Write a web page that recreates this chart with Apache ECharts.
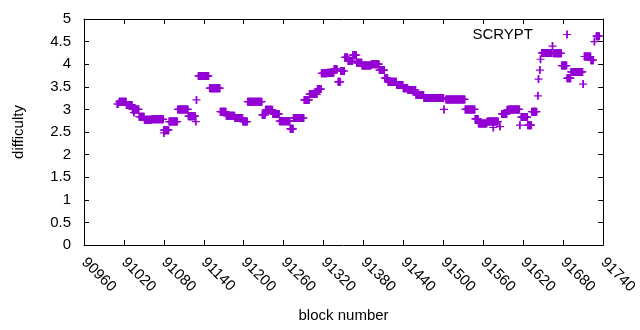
<!DOCTYPE html>
<html>
<head>
<meta charset="utf-8">
<script src="https://cdn.jsdelivr.net/npm/echarts@6/dist/echarts.min.js"></script>
<style>
  html, body { margin: 0; padding: 0; background: #fff; }
  #chart { width: 640px; height: 330px; }
</style>
</head>
<body>
<div id="chart"></div>
<script>
const xTickLabels = [90960, 91020, 91080, 91140, 91200, 91260, 91320, 91380, 91440, 91500, 91560, 91620, 91680, 91740];
const yTickLabels = [0, 0.5, 1, 1.5, 2, 2.5, 3, 3.5, 4, 4.5, 5];

// runs of blocks that sit at the same difficulty (first block, last block, value)
const runStart = [91013, 91024, 91033, 91043, 91051, 91062, 91080, 91088, 91101, 91117, 91132, 91149, 91165, 91174, 91187, 91199, 91206, 91228, 91233, 91244, 91254, 91270, 91275, 91291, 91299, 91311, 91317, 91326, 91336, 91342, 91346, 91352, 91357, 91364, 91370, 91378, 91392, 91404, 91412, 91417, 91430, 91440, 91447, 91459, 91471, 91504, 91533, 91548, 91553, 91566, 91588, 91596, 91600, 91617, 91627, 91633, 91648, 91666, 91678, 91686, 91692, 91712, 91722, 91730];
const runEnd   = [91023, 91032, 91042, 91050, 91061, 91079, 91087, 91100, 91116, 91127, 91147, 91164, 91173, 91186, 91198, 91205, 91227, 91232, 91243, 91253, 91269, 91274, 91290, 91298, 91310, 91316, 91325, 91335, 91340, 91345, 91351, 91356, 91363, 91369, 91377, 91391, 91403, 91411, 91416, 91429, 91439, 91446, 91458, 91470, 91500, 91532, 91547, 91552, 91565, 91582, 91595, 91599, 91614, 91626, 91632, 91640, 91663, 91677, 91685, 91691, 91709, 91721, 91725, 91734];
const runValue = [3.17, 3.10, 3.00, 2.84, 2.77, 2.78, 2.54, 2.73, 3.00, 2.85, 3.74, 3.47, 2.95, 2.86, 2.81, 2.73, 3.17, 2.88, 2.99, 2.90, 2.74, 2.57, 2.81, 3.21, 3.34, 3.45, 3.80, 3.81, 3.89, 3.61, 3.85, 4.15, 4.07, 4.20, 4.03, 3.97, 4.00, 3.87, 3.69, 3.61, 3.54, 3.47, 3.43, 3.32, 3.25, 3.22, 3.00, 2.79, 2.69, 2.73, 2.90, 2.99, 3.00, 2.83, 2.65, 2.95, 4.25, 4.24, 3.97, 3.69, 3.83, 4.17, 4.09, 4.62];

// single blocks away from the runs
const oddBlock = [91010, 91011, 91035, 91080, 91128, 91129, 91501, 91575, 91585, 91615, 91642, 91643, 91645, 91646, 91664, 91710, 91727];
const oddValue = [3.12, 3.12, 2.93, 2.48, 2.73, 3.21, 3.00, 2.60, 2.62, 2.65, 3.30, 3.67, 3.87, 4.11, 4.40, 3.56, 4.50];

const runPoints = [];
runStart.forEach((s, i) => {
  for (let b = s; b <= runEnd[i]; b++) runPoints.push([b, runValue[i]]);
});
const oddPoints = oddBlock.map((b, i) => [b, oddValue[i]]);

const font = "'Liberation Sans', Arial, sans-serif";
// gnuplot style "+": thin horizontal arm, slightly heavier vertical arm
const plus = "path://M0,3.4H8V4.6H0Z M3.1,0H4.9V8H3.1Z";
const purple = "#9400d3";
const black = { color: "#000", width: 1 };

const chart = echarts.init(document.getElementById("chart"));

const xBase = {
  type: "value",
  min: xTickLabels[0],
  max: xTickLabels[xTickLabels.length - 1],
  interval: xTickLabels[1] - xTickLabels[0],
  axisLine: { show: true, onZero: false, lineStyle: black },
  axisTick: { show: true, inside: true, length: 5, lineStyle: black },
  splitLine: { show: false },
};
const yBase = {
  type: "value",
  min: yTickLabels[0],
  max: yTickLabels[yTickLabels.length - 1],
  interval: yTickLabels[1] - yTickLabels[0],
  axisLine: { show: true, onZero: false, lineStyle: black },
  axisTick: { show: true, inside: true, length: 5, lineStyle: black },
  splitLine: { show: false },
};

function plusSeries(data) {
  return {
    name: "SCRYPT",
    type: "scatter",
    data: data,
    symbol: plus,
    symbolSize: 8,
    silent: true,
    progressive: 0,
    itemStyle: { color: purple, borderWidth: 0, opacity: 1 },
  };
}

chart.setOption({
  animation: false,
  color: [purple],
  textStyle: { fontFamily: font },
  grid: { left: 84, right: 31, top: 19, bottom: 85, containLabel: false },
  legend: {
    data: ["SCRYPT"],
    right: 69,
    top: 27,
    padding: 0,
    align: "right",
    itemWidth: 8,
    itemHeight: 8,
    icon: plus,
    itemStyle: { color: purple },
    textStyle: { color: "#000", fontSize: 15, fontFamily: font, padding: [0, 25, 0, 0] },
  },
  xAxis: [
    {
      ...xBase,
      position: "bottom",
      axisLabel: {
        rotate: -45,
        margin: 15,
        color: "#000",
        fontSize: 15,
        fontFamily: font,
        formatter: (v) => String(v),
      },
      name: "block number",
      nameLocation: "middle",
      nameGap: 63,
      nameTextStyle: { color: "#000", fontSize: 15, fontFamily: font },
    },
    { ...xBase, position: "top", axisLabel: { show: false } },
  ],
  yAxis: [
    {
      ...yBase,
      position: "left",
      axisLabel: { margin: 13, color: "#000", fontSize: 15, fontFamily: font },
      name: "difficulty",
      nameLocation: "middle",
      nameGap: 58,
      nameTextStyle: { color: "#000", fontSize: 15, fontFamily: font },
    },
    { ...yBase, position: "right", axisLabel: { show: false } },
  ],
  series: [plusSeries(runPoints), plusSeries(oddPoints)],
});
</script>
</body>
</html>
